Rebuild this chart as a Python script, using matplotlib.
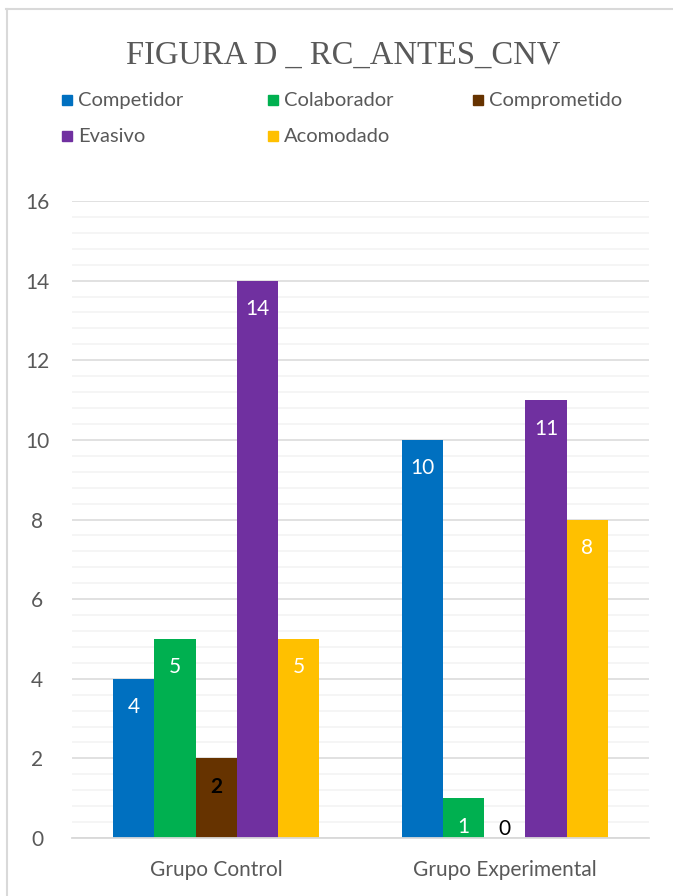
import matplotlib
matplotlib.use("Agg")
import matplotlib.pyplot as plt
from matplotlib.patches import Rectangle
from matplotlib.lines import Line2D
import numpy as np

# ---- data ----
title = "FIGURA D _ RC_ANTES_CNV"
categories = ["Grupo Control", "Grupo Experimental"]
series_names = ["Competidor", "Colaborador", "Comprometido", "Evasivo", "Acomodado"]
competidor = [4, 10]
colaborador = [5, 1]
comprometido = [2, 0]
evasivo = [14, 11]
acomodado = [5, 8]
series_values = [competidor, colaborador, comprometido, evasivo, acomodado]
colors = ["#0070C0", "#00B050", "#663300", "#7030A0", "#FFC000"]
yticks = [0, 2, 4, 6, 8, 10, 12, 14, 16]

W, H = 673, 896
DPI = 100
plt.rcParams['font.family'] = ['Lato', 'DejaVu Sans']
TXT = "#595959"

fig = plt.figure(figsize=(W / DPI, H / DPI), dpi=DPI)
fig.patch.set_facecolor("white")

def fx(px):
    return px / W

def fy(py):
    return 1 - py / H

ax = fig.add_axes([fx(72), fy(838), fx(649) - fx(72), fy(201) - fy(838)])
ax.set_xlim(-0.5, len(categories) - 0.5)
ax.set_ylim(0, 16)

bw = 0.143
x = np.arange(len(categories))
for i, (name, vals, col) in enumerate(zip(series_names, series_values, colors)):
    xs = x + (i - 2) * bw
    ax.bar(xs, vals, width=bw, color=col, zorder=3, label=name)
    for xi, v in zip(xs, vals):
        if v == 0:
            ax.annotate(str(v), (xi, 0), xytext=(0, 6.5), textcoords="offset points",
                        ha="center", va="center", color="black", fontsize=15, zorder=4)
        elif name == "Comprometido":
            ax.annotate(str(v), (xi, v), xytext=(0, -20.5), textcoords="offset points",
                        ha="center", va="center", color="black", fontsize=15,
                        fontweight="bold", zorder=4)
        else:
            ax.annotate(str(v), (xi, v), xytext=(0, -20.5), textcoords="offset points",
                        ha="center", va="center", color="white", fontsize=15, zorder=4)

ax.set_yticks(yticks)
ax.set_yticks(np.arange(0, 16.01, 0.4), minor=True)
ax.grid(axis="y", which="major", color="#d9d9d9", lw=1.1, zorder=0)
ax.grid(axis="y", which="minor", color="#f2f2f2", lw=1.1, zorder=0)
ax.set_xticks(x)
ax.set_xticklabels(categories)
ax.tick_params(axis="y", which="both", length=0, labelsize=15, labelcolor=TXT, pad=25)
ax.tick_params(axis="x", length=0, labelsize=15, labelcolor=TXT, pad=16)
for s in ["left", "right", "top"]:
    ax.spines[s].set_visible(False)
ax.spines["bottom"].set_color("#d9d9d9")
ax.spines["bottom"].set_linewidth(1.3)
ax.spines["bottom"].set_zorder(5)
for lab in ax.get_yticklabels():
    lab.set_horizontalalignment("center")

# title
fig.text(fx(343), fy(55), title, ha="center", va="center",
         fontsize=23.5, color=TXT, family=["Liberation Serif", "DejaVu Serif"])

# legend (manual, Excel style)
leg_pos = [(62, 100), (268, 100), (473, 100), (62, 136), (268, 136)]
for (px, py), name, col in zip(leg_pos, series_names, colors):
    fig.patches.append(Rectangle((fx(px), fy(py + 5)), fx(10), 10 / H,
                                 transform=fig.transFigure, color=col))
    fig.text(fx(px + 16), fy(py + 0.5), name, ha="left", va="center",
             fontsize=14.5, color=TXT)

# outer border
fig.add_artist(Line2D([fx(6), fx(673)], [fy(9), fy(9)], color="#d9d9d9", lw=1.5,
                      transform=fig.transFigure))
fig.add_artist(Line2D([fx(7), fx(7)], [fy(9), fy(896)], color="#d9d9d9", lw=1.5,
                      transform=fig.transFigure))

fig.savefig("out.png", dpi=DPI, facecolor="white")
